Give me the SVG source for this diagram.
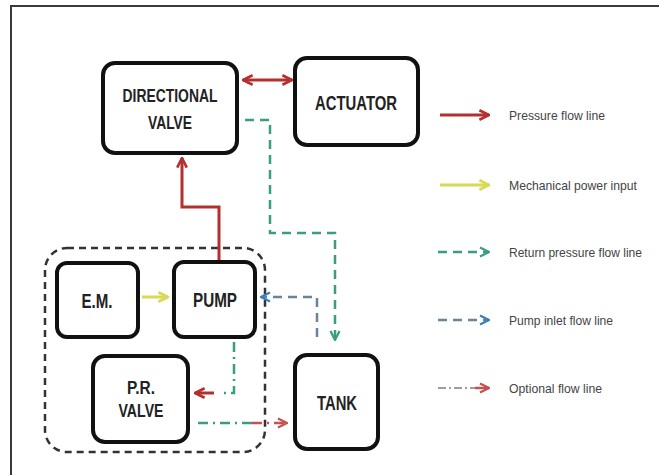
<svg xmlns="http://www.w3.org/2000/svg" width="659" height="475" viewBox="0 0 659 475">
<defs>
<style>
.box{fill:#fff;stroke:#111;stroke-width:4}
.lbl{font-family:"Liberation Sans",Arial,sans-serif;font-weight:bold;fill:#222;text-anchor:middle;dominant-baseline:central}
.leg{font-family:"Liberation Sans",Arial,sans-serif;font-size:13px;fill:#444;dominant-baseline:central}
.red{stroke:#b3302e;stroke-width:3;fill:none}
.yel{stroke:#d6da55;stroke-width:3;fill:none}
.grn{stroke:#3a9c80;stroke-width:2.5;fill:none;stroke-dasharray:9 6}
.blu{stroke:#6a8499;stroke-width:2.5;fill:none;stroke-dasharray:9 6}
.opt{stroke:#3a9c80;stroke-width:2.5;fill:none;stroke-dasharray:10 5 2 5}
.optr{stroke:#c85050;stroke-width:2.5;fill:none;stroke-dasharray:10 5 2 5}
</style>
<marker id="aR" viewBox="0 0 10 10" refX="9" refY="5" markerWidth="4" markerHeight="4" orient="auto-start-reverse" markerUnits="strokeWidth"><path d="M1,1 L9,5 L1,9" fill="none" stroke="#b3302e" stroke-width="2.2"/></marker>
<marker id="aY" viewBox="0 0 10 10" refX="9" refY="5" markerWidth="4" markerHeight="4" orient="auto" markerUnits="strokeWidth"><path d="M1,1 L9,5 L1,9" fill="none" stroke="#d6da55" stroke-width="2.2"/></marker>
<marker id="aG" viewBox="0 0 10 10" refX="9" refY="5" markerWidth="4.5" markerHeight="4.5" orient="auto" markerUnits="strokeWidth"><path d="M1,1 L9,5 L1,9" fill="none" stroke="#3a9c80" stroke-width="2"/></marker>
<marker id="aB" viewBox="0 0 10 10" refX="9" refY="5" markerWidth="4.5" markerHeight="4.5" orient="auto" markerUnits="strokeWidth"><path d="M1,1 L9,5 L1,9" fill="none" stroke="#3a80b8" stroke-width="2"/></marker>
<marker id="aO" viewBox="0 0 10 10" refX="9" refY="5" markerWidth="4.5" markerHeight="4.5" orient="auto" markerUnits="strokeWidth"><path d="M1,1 L9,5 L1,9" fill="none" stroke="#c85050" stroke-width="2"/></marker>
</defs>
<rect width="659" height="475" fill="#fff"/>
<g id="frame" stroke="#3a3a3a" stroke-width="2" fill="none">
<line x1="10" y1="6" x2="659" y2="6"/>
<line x1="11" y1="5" x2="11" y2="475"/>
</g>
<g id="group-box"><rect x="45" y="248" width="220" height="204" rx="22" fill="none" stroke="#333" stroke-width="2.5" stroke-dasharray="7 5"/></g>
<g id="connectors">
<line class="red" x1="243" y1="80" x2="292" y2="80" marker-start="url(#aR)" marker-end="url(#aR)"/>
<polyline class="red" points="219,262 219,207 182,207 182,158" marker-end="url(#aR)"/>
<polyline class="grn" points="245,120 270,120 270,233 335,233 335,340" marker-end="url(#aG)"/>
<line class="yel" x1="142" y1="297" x2="168" y2="297" marker-end="url(#aY)"/>
<polyline class="blu" points="317,337 317,297 261,297" marker-end="url(#aB)"/>
<polyline class="opt" points="234,342 234,393 222,393"/>
<line class="red" x1="214" y1="393" x2="195" y2="393" marker-end="url(#aR)"/>
<polyline class="opt" points="198,423 252,423"/>
<line class="optr" x1="252" y1="423" x2="287" y2="423" marker-end="url(#aO)"/>
</g>
<g id="directional-valve">
<rect class="box" x="103" y="63" width="134" height="90" rx="12"/>
<text class="lbl" x="170" y="96" font-size="18" textLength="95" lengthAdjust="spacingAndGlyphs">DIRECTIONAL</text>
<text class="lbl" x="170" y="123" font-size="18" textLength="44" lengthAdjust="spacingAndGlyphs">VALVE</text>
</g>
<g id="actuator">
<rect class="box" x="295" y="58" width="123" height="87" rx="12"/>
<text class="lbl" x="356" y="102" font-size="21" textLength="82" lengthAdjust="spacingAndGlyphs">ACTUATOR</text>
</g>
<g id="em">
<rect class="box" x="57" y="263" width="81" height="74" rx="10"/>
<text class="lbl" x="97" y="301" font-size="20" textLength="31" lengthAdjust="spacingAndGlyphs">E.M.</text>
</g>
<g id="pump">
<rect class="box" x="174" y="262" width="81" height="75" rx="10"/>
<text class="lbl" x="215" y="300" font-size="20" textLength="44" lengthAdjust="spacingAndGlyphs">PUMP</text>
</g>
<g id="pr-valve">
<rect class="box" x="93" y="356" width="95" height="86" rx="12"/>
<text class="lbl" x="141" y="387" font-size="19" textLength="28" lengthAdjust="spacingAndGlyphs">P.R.</text>
<text class="lbl" x="141" y="410" font-size="19" textLength="45" lengthAdjust="spacingAndGlyphs">VALVE</text>
</g>
<g id="tank">
<rect class="box" x="295" y="355" width="83" height="94" rx="12"/>
<text class="lbl" x="337" y="403" font-size="20" textLength="40" lengthAdjust="spacingAndGlyphs">TANK</text>
</g>
<g id="legend">
<line class="red" x1="440" y1="115" x2="489" y2="115" marker-end="url(#aR)"/>
<text class="leg" x="509" y="115" textLength="96" lengthAdjust="spacingAndGlyphs">Pressure flow line</text>
<line class="yel" x1="440" y1="185" x2="489" y2="185" marker-end="url(#aY)"/>
<text class="leg" x="509" y="185" textLength="128" lengthAdjust="spacingAndGlyphs">Mechanical power input</text>
<line class="grn" x1="438" y1="252" x2="489" y2="252" stroke-dasharray="7 8" marker-end="url(#aG)"/>
<text class="leg" x="509" y="252" textLength="133" lengthAdjust="spacingAndGlyphs">Return pressure flow line</text>
<line class="blu" x1="438" y1="320" x2="489" y2="320" stroke-dasharray="7 8" marker-end="url(#aB)"/>
<text class="leg" x="509" y="320" textLength="104" lengthAdjust="spacingAndGlyphs">Pump inlet flow line</text>
<line x1="438" y1="388" x2="475" y2="388" stroke="#9aa0a0" stroke-width="2" stroke-dasharray="8 3 2 3"/>
<line x1="475" y1="388" x2="489" y2="388" stroke="#c85050" stroke-width="2.5" marker-end="url(#aO)"/>
<text class="leg" x="509" y="388" textLength="93" lengthAdjust="spacingAndGlyphs">Optional flow line</text>
</g>
</svg>
